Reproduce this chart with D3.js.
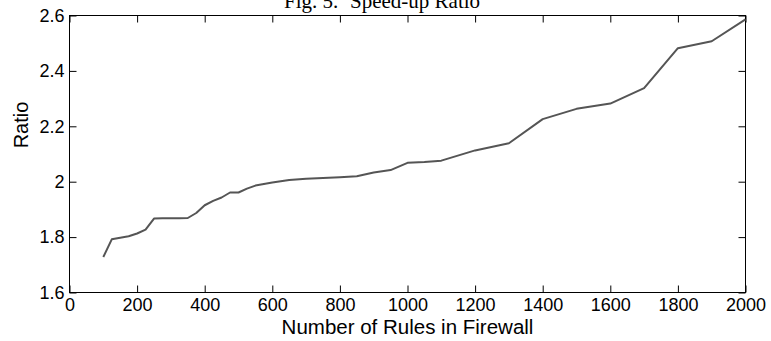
<!DOCTYPE html>
<html>
<head>
<meta charset="utf-8">
<script src="https://cdn.jsdelivr.net/npm/d3@7"></script>
<style>
  html, body { margin: 0; padding: 0; background: #fff; }
  svg { display: block; }
</style>
</head>
<body>
<svg id="chart" width="771" height="341"></svg>
<script>
const rules = [100,125,150,175,200,225,250,275,300,325,350,375,400,425,450,475,500,525,550,600,650,700,750,800,850,900,950,1000,1050,1100,1200,1300,1400,1500,1600,1700,1800,1900,2000];
const ratio = [1.728,1.792,1.798,1.803,1.813,1.827,1.867,1.868,1.868,1.868,1.869,1.887,1.915,1.931,1.943,1.961,1.961,1.975,1.986,1.997,2.006,2.011,2.013,2.016,2.020,2.033,2.042,2.068,2.071,2.076,2.113,2.139,2.226,2.263,2.282,2.338,2.482,2.507,2.586];
const xTicks = [0,200,400,600,800,1000,1200,1400,1600,1800,2000];
const yTicks = [1.6,1.8,2.0,2.2,2.4,2.6];
const titleA = "Fig. 5.";
const titleB = "Speed-up Ratio";
const xLabel = "Number of Rules in Firewall";
const yLabel = "Ratio";

const svg = d3.select("#chart");
const L = 69.5, R = 745.5, T = 15.5, B = 292.5;
const x = d3.scaleLinear().domain([0, 2000]).range([L, R]);
const y = d3.scaleLinear().domain([1.6, 2.6]).range([B, T]);
const sans = "'Liberation Sans', Arial, Helvetica, sans-serif";
const serif = "'Liberation Serif', 'Times New Roman', Times, serif";
const fmt = d => (d === 2 ? "2" : String(+d.toFixed(1)));

// frame
svg.append("rect").attr("x", L).attr("y", T).attr("width", R - L).attr("height", B - T)
  .attr("fill", "none").attr("stroke", "#000").attr("stroke-width", 1);

function styleAxis(g, showLabels) {
  g.select(".domain").remove();
  g.selectAll(".tick line").attr("stroke", "#000").attr("stroke-width", 1);
  g.selectAll(".tick text").attr("fill", "#000").style("font-family", sans).style("font-size", "18px");
  if (!showLabels) g.selectAll(".tick text").remove();
}

svg.append("g").attr("transform", `translate(0,${B})`)
  .call(d3.axisBottom(x).tickValues(xTicks).tickSizeInner(-7).tickSizeOuter(0).tickPadding(6).tickFormat(d3.format("d")))
  .call(g => styleAxis(g, true));
svg.append("g").attr("transform", `translate(0,${T})`)
  .call(d3.axisTop(x).tickValues(xTicks).tickSizeInner(-7).tickSizeOuter(0))
  .call(g => styleAxis(g, false));
svg.append("g").attr("transform", `translate(${L},0)`)
  .call(d3.axisLeft(y).tickValues(yTicks).tickSizeInner(-7).tickSizeOuter(0).tickPadding(5).tickFormat(fmt))
  .call(g => styleAxis(g, true));
svg.append("g").attr("transform", `translate(${R},0)`)
  .call(d3.axisRight(y).tickValues(yTicks).tickSizeInner(-7).tickSizeOuter(0))
  .call(g => styleAxis(g, false));

// line
const pts = rules.map((r, i) => [r, ratio[i]]);
svg.append("path").datum(pts)
  .attr("fill", "none").attr("stroke", "#555").attr("stroke-width", 2)
  .attr("stroke-linejoin", "round")
  .attr("d", d3.line().x(d => x(d[0])).y(d => y(d[1])));

// labels
svg.append("text").attr("x", (L + R) / 2).attr("y", 334).attr("text-anchor", "middle")
  .style("font-family", sans).style("font-size", "20.5px").text(xLabel);
svg.append("text").attr("transform", `translate(28,125) rotate(-90)`).attr("text-anchor", "middle")
  .style("font-family", sans).style("font-size", "20px").text(yLabel);

// title (cropped at top)
svg.append("text").attr("x", 284).attr("y", 8)
  .style("font-family", serif).style("font-size", "21px").text(titleA);
svg.append("text").attr("x", 350).attr("y", 8)
  .style("font-family", serif).style("font-size", "21px").text(titleB);
</script>
</body>
</html>
